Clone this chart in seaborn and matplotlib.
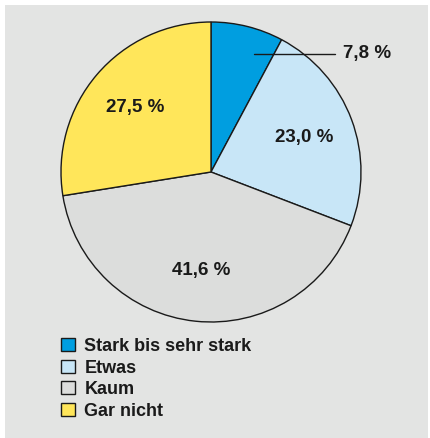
import matplotlib
matplotlib.use("Agg")
import numpy as np
import matplotlib.pyplot as plt
import seaborn as sns
from matplotlib.patches import Rectangle

categories = ["Stark bis sehr stark", "Etwas", "Kaum", "Gar nicht"]
shares = [7.8, 23.0, 41.6, 27.5]
share_labels = ["7,8 %", "23,0 %", "41,6 %", "27,5 %"]
colors = ["#009ee0", "#c8e6f7", "#dcdddc", "#ffe65a"]

sns.set_theme(style="white")
plt.rcParams["font.family"] = ["Liberation Sans", "DejaVu Sans"]

W, H = 431, 438
fig = plt.figure(figsize=(W / 100, H / 100), dpi=100, facecolor="white")
fig.patches.append(Rectangle((5 / W, 0), (428 - 5) / W, (H - 5) / H,
                             transform=fig.transFigure, facecolor="#e3e4e3",
                             edgecolor="none", zorder=-10))

cx, cy, r = 211, 172, 150
ax = fig.add_axes([(cx - r) / W, (H - cy - r) / H, 2 * r / W, 2 * r / H])
ax.set_facecolor("none")

wedges, _ = ax.pie(shares, colors=colors, startangle=90, counterclock=False,
                   wedgeprops=dict(edgecolor="#1a1a1a", linewidth=1.0),
                   radius=1.0)
ax.set_xlim(-1.0, 1.0)
ax.set_ylim(-1.0, 1.0)
ax.set_aspect("equal")
ax.axis("off")

start = 90.0
total = sum(shares)
txt_kw = dict(fontsize=13.5, fontweight="bold", color="#1a1a1a")
for val, lab in zip(shares, share_labels):
    span = 360.0 * val / total
    mid = np.deg2rad(start - span / 2)
    start -= span
    if val < 10:
        px, py = 0.29, 0.787
        ax.plot([px, 0.83], [py, py], color="#1a1a1a", lw=1.0, clip_on=False)
        ax.text(0.88, py, lab, ha="left", va="center", **txt_kw)
    else:
        d = 0.66
        ax.text(d * np.cos(mid), d * np.sin(mid), lab, ha="center", va="center",
                **txt_kw)

handles = [Rectangle((0, 0), 1, 1, facecolor=c, edgecolor="#1a1a1a", lw=1.0)
           for c in colors]
fig.legend(handles, categories, loc="upper left",
           bbox_to_anchor=(61 / W, 1 - 338 / H), frameon=False,
           handlelength=0.75, handleheight=0.75, handletextpad=0.55,
           labelspacing=0.25, borderaxespad=0, borderpad=0,
           prop=dict(size=13, weight="bold"), labelcolor="#1a1a1a")

fig.savefig("out.png", dpi=100, facecolor="white")
